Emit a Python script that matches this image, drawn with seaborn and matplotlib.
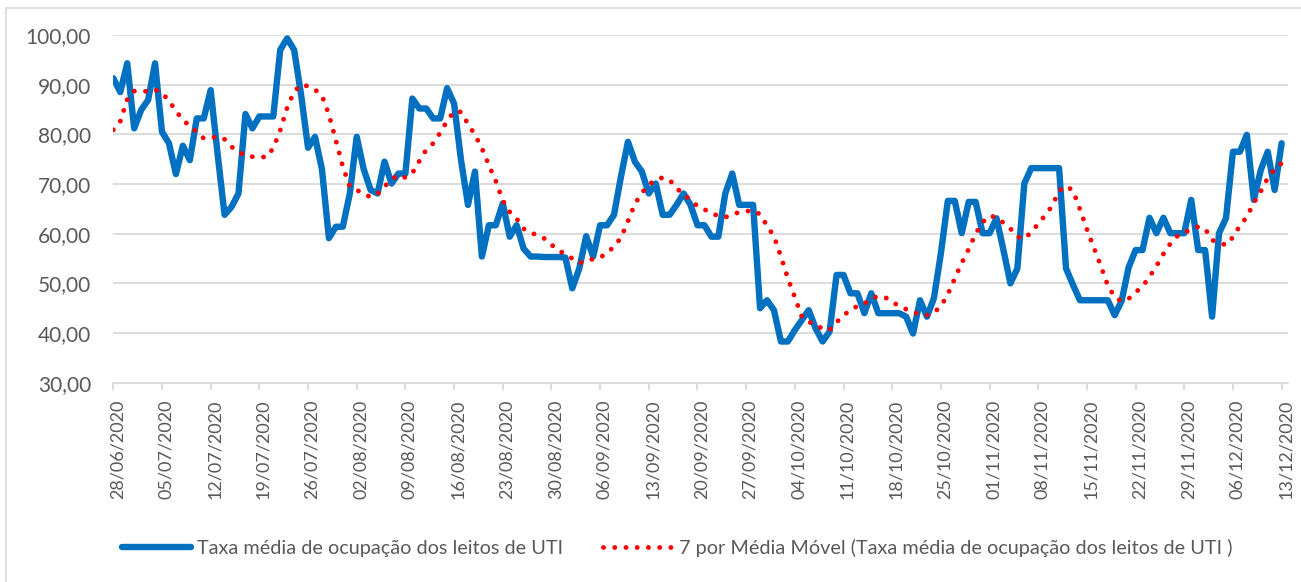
import numpy as np
import pandas as pd
import matplotlib
matplotlib.use("Agg")
import matplotlib.pyplot as plt
import matplotlib.ticker as mticker
import matplotlib.dates as mdates
import matplotlib.transforms as mtransforms
from matplotlib.patches import Rectangle
import seaborn as sns

# daily values 28/06/2020 .. 13/12/2020
taxa_uti = [
    91.3, 88.5, 94.3, 81.2, 84.9, 86.9, 94.3, 80.5, 78.2, 72.0,
    77.7, 74.8, 83.2, 83.2, 88.9, 76.0, 63.8, 65.4, 68.1, 84.1,
    81.2, 83.6, 83.6, 83.6, 97.0, 99.3, 97.0, 88.0, 77.3, 79.5,
    73.0, 59.1, 61.4, 61.4, 68.0, 79.5, 73.0, 68.8, 68.1, 74.5,
    70.1, 72.1, 72.1, 87.2, 85.2, 85.2, 83.2, 83.2, 89.3, 86.2,
    74.8, 65.8, 72.5, 55.4, 61.7, 61.7, 66.1, 59.4, 61.7, 57.0,
    55.4, 55.4, 55.3, 55.3, 55.3, 55.2, 49.0, 53.0, 59.5, 55.4,
    61.7, 61.7, 63.8, 71.5, 78.5, 74.5, 72.5, 68.1, 70.1, 63.8,
    63.8, 65.8, 68.1, 65.8, 61.7, 61.7, 59.4, 59.4, 68.1, 72.1,
    65.8, 65.8, 65.8, 45.0, 46.6, 44.6, 38.3, 38.3, 40.6, 42.6,
    44.6, 40.9, 38.3, 40.3, 51.7, 51.7, 48.0, 48.0, 44.0, 48.0,
    44.0, 44.0, 44.0, 44.0, 43.3, 39.9, 46.6, 43.3, 47.0, 56.0,
    66.6, 66.6, 60.1, 66.4, 66.4, 60.1, 60.1, 63.1, 56.7, 50.0,
    53.0, 70.1, 73.2, 73.2, 73.2, 73.2, 73.2, 53.0, 49.7, 46.6,
    46.6, 46.6, 46.6, 46.6, 43.6, 46.5, 53.2, 56.7, 56.7, 63.2,
    60.1, 63.2, 60.1, 60.1, 60.1, 66.8, 56.7, 56.7, 43.3, 60.1,
    63.1, 76.5, 76.5, 79.9, 66.8, 72.8, 76.5, 68.8, 78.2,
]

media_movel = [
    80.9, 82.6, 87.0, 88.7, 88.6, 88.7, 89.0, 88.3, 86.8, 84.7,
    82.9, 81.7, 80.5, 79.2, 79.2, 79.6, 79.0, 77.5, 76.5, 75.7,
    75.5, 75.5, 75.4, 77.2, 80.8, 85.4, 88.6, 90.0, 89.7, 89.0,
    87.8, 84.0, 78.8, 73.5, 69.5, 68.8, 68.0, 67.4, 68.0, 69.5,
    70.9, 71.8, 71.3, 72.2, 74.6, 76.9, 78.2, 80.3, 82.7, 84.6,
    84.5, 82.1, 79.9, 77.2, 73.8, 70.6, 66.7, 64.4, 63.0, 61.0,
    60.1, 59.8, 59.0, 57.8, 56.6, 55.9, 55.0, 54.1, 54.5, 54.9,
    55.2, 56.1, 57.4, 59.2, 62.5, 66.0, 68.2, 69.9, 70.8, 71.3,
    70.8, 69.2, 67.8, 66.9, 65.5, 64.9, 64.1, 63.6, 63.3, 63.9,
    64.3, 64.5, 64.7, 63.9, 61.6, 59.5, 55.4, 51.0, 47.2, 43.3,
    42.2, 41.8, 40.8, 40.6, 42.2, 43.5, 44.7, 45.4, 45.9, 47.0,
    47.4, 47.2, 46.2, 45.5, 44.8, 44.2, 43.8, 43.6, 44.1, 45.4,
    47.8, 51.0, 54.1, 56.9, 60.0, 62.3, 63.6, 63.3, 62.2, 61.0,
    59.4, 59.0, 60.3, 62.0, 63.7, 65.6, 68.6, 69.6, 68.7, 64.9,
    60.9, 57.2, 53.5, 49.6, 47.2, 46.4, 46.9, 48.2, 49.4, 51.3,
    53.5, 55.9, 58.0, 59.5, 60.2, 60.9, 61.4, 61.0, 58.7, 58.2,
    57.7, 59.3, 61.6, 63.4, 66.2, 68.5, 71.2, 73.0, 74.2,
]

datas = pd.date_range("2020-06-28", periods=len(taxa_uti), freq="D")
semanas = pd.date_range("2020-06-28", "2020-12-13", freq="7D")

nome_taxa = "Taxa média de ocupação dos leitos de UTI"
nome_mm = "7 por Média Móvel (Taxa média de ocupação dos leitos de UTI )"

df = pd.DataFrame({"data": datas, "taxa": taxa_uti, "mm": media_movel})

sns.set_theme(style="white")
plt.rcParams["font.family"] = ["Lato", "DejaVu Sans"]

fig = plt.figure(figsize=(13.01, 5.82), dpi=100)
ax = fig.add_axes([0.0871, 0.3424, 0.9029, 0.5975])

sns.lineplot(data=df, x="data", y="taxa", ax=ax, color="#0070C0",
             linewidth=4.6, label=nome_taxa)
sns.lineplot(data=df, x="data", y="mm", ax=ax, color="#FF0000",
             linewidth=3.5, label=nome_mm)
ax.lines[1].set_linestyle((0, (0.01, 2.3)))
ax.lines[1].set_dash_capstyle("round")

ax.set_ylim(30, 100)
ax.set_yticks(np.arange(30, 101, 10))
ax.yaxis.set_major_formatter(mticker.FuncFormatter(lambda v, _: f"{v:.2f}".replace(".", ",")))
ax.set_xlim(datas[0], datas[-1] + pd.Timedelta(hours=22))
ax.set_xticks(semanas)
ax.xaxis.set_major_formatter(mdates.DateFormatter("%d/%m/%Y"))

ax.grid(axis="y", color="#D9D9D9", linewidth=1.3)
ax.set_axisbelow(True)
for s in ["top", "right", "left"]:
    ax.spines[s].set_visible(False)
ax.spines["bottom"].set_color("#D9D9D9")
ax.spines["bottom"].set_linewidth(1.3)
ax.tick_params(axis="y", length=0, pad=16, labelsize=15, labelcolor="#595959")
ax.tick_params(axis="x", bottom=True, length=5, width=1.3, color="#D9D9D9",
               pad=7, labelsize=13, labelcolor="#595959")
shift = mtransforms.ScaledTranslation(4 / 100, 0, fig.dpi_scale_trans)
for lab in ax.get_xticklabels():
    lab.set_rotation(90)
    lab.set_ha("center")
    lab.set_va("top")
    lab.set_transform(lab.get_transform() + shift)
ax.set_xlabel("")
ax.set_ylabel("")

h, l = ax.get_legend_handles_labels()
ax.get_legend().remove()
fig.legend(h, l, loc="center left", bbox_to_anchor=(0.086, 1 - 548 / 582),
           ncol=2, frameon=False, fontsize=14.3, handlelength=3.5,
           handletextpad=0.3, columnspacing=2.0, borderpad=0,
           labelcolor="#595959")

fig.patches.append(Rectangle((6 / 1301, -0.05), 1.1, 1.05 - 8 / 582,
                             transform=fig.transFigure, fill=False,
                             edgecolor="#D9D9D9", linewidth=1.2))

fig.savefig("out.png", dpi=100)
